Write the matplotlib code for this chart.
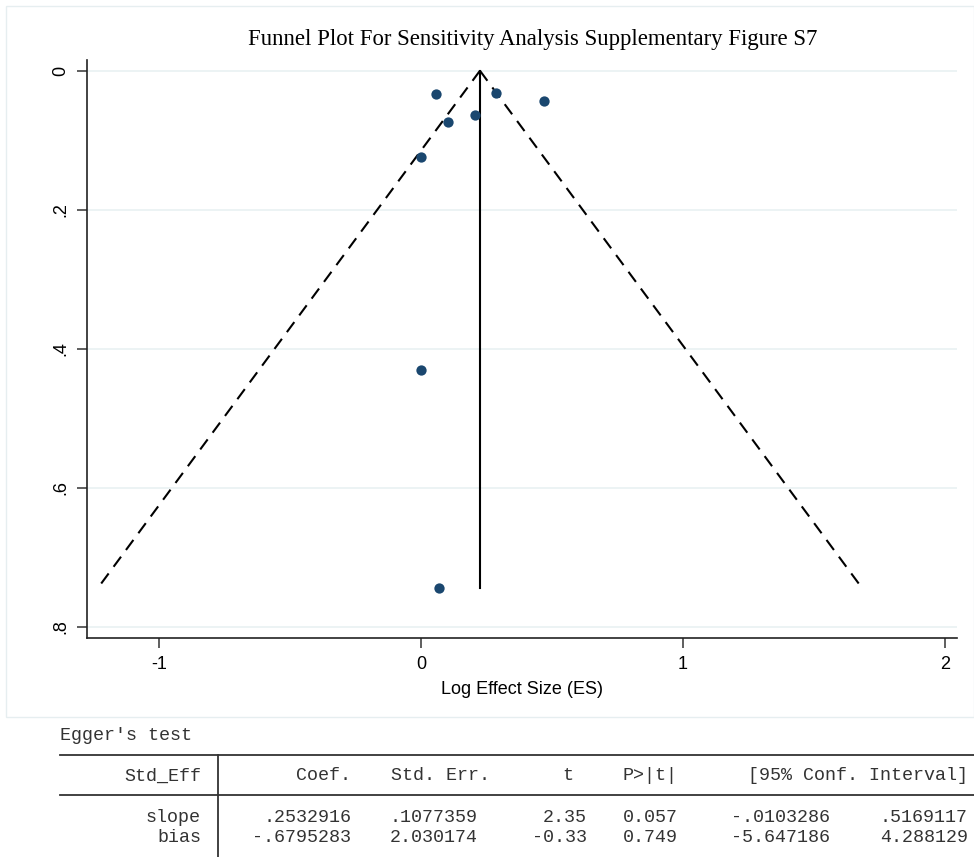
import matplotlib
matplotlib.use("Agg")
import matplotlib.pyplot as plt
from matplotlib.patches import Rectangle
import numpy as np

# ---- data ----
log_es = [0.057, 0.286, 0.469, 0.206, 0.103, 0.0, 0.0, 0.069]
se_es = [0.0335, 0.032, 0.0437, 0.064, 0.074, 0.124, 0.43, 0.744]
pooled_es = 0.225
x_ticks = [-1, 0, 1, 2]
y_ticks = [0, 0.2, 0.4, 0.6, 0.8]
y_ticklabels = ["0", ".2", ".4", ".6", ".8"]

table_title = "Egger's test"
table_header = ["Std_Eff", "Coef.", "Std. Err.", "t", "P>|t|", "[95% Conf. Interval]"]
row_names = ["slope", "bias"]
coef = [".2532916", "-.6795283"]
std_err = [".1077359", "2.030174"]
t_vals = ["2.35", "-0.33"]
p_vals = ["0.057", "0.749"]
ci_low = ["-.0103286", "-5.647186"]
ci_high = [".5169117", "4.288129"]

W, H = 974, 857
fig = plt.figure(figsize=(W / 100, H / 100), dpi=100)
fig.patch.set_facecolor("white")

# outer graph region border
fig.add_artist(Rectangle((6 / W, 1 - 717 / H), (W - 6) / W, (717 - 6) / H,
                         transform=fig.transFigure, fill=False,
                         edgecolor="#e6eef0", lw=1.0))

ax = fig.add_axes([87 / W, 1 - 638 / H, (957 - 87) / W, (638 - 60) / H])
ax.set_xlim(-1.275, 2.046)
ax.set_ylim(0.816, -0.0154)

grid_c = "#eaf2f3"
for yv in y_ticks:
    ax.axhline(yv, color=grid_c, lw=1.3, zorder=0)

max_se = max(se_es)
se_line = np.array([0, max_se])
ax.plot(pooled_es - 1.96 * se_line, se_line, color="black", lw=1.5,
        dashes=(6, 4), zorder=2)
ax.plot(pooled_es + 1.96 * se_line, se_line, color="black", lw=1.5,
        dashes=(6, 4), zorder=2)
ax.plot([pooled_es, pooled_es], [0, max_se], color="black", lw=1.5, zorder=2)

ax.scatter(log_es, se_es, s=55, color="#1a476f", zorder=3, linewidths=0)

for s in ["top", "right"]:
    ax.spines[s].set_visible(False)
for s in ["left", "bottom"]:
    ax.spines[s].set_color("#222222")
    ax.spines[s].set_linewidth(1.2)

ax.set_xticks(x_ticks)
ax.set_xticklabels([str(v) for v in x_ticks], family="Liberation Sans", fontsize=13)
ax.set_yticks(y_ticks)
ax.set_yticklabels(y_ticklabels, family="Liberation Sans", fontsize=13,
                   rotation=90, va="center")
ax.tick_params(axis="both", length=7, width=1.1, color="#333333", pad=6)
ax.set_xlabel("Log Effect Size (ES)", family="Liberation Sans", fontsize=13,
              labelpad=6)

fig.text(533 / W, 1 - 40 / H,
         "Funnel Plot For Sensitivity Analysis Supplementary Figure S7",
         family="Liberation Serif", fontsize=16.4, ha="center", va="center")

# ---- Egger's test table ----
mono = "Liberation Mono"
fs = 13.2
tc = "#333333"
fig.text(60 / W, 1 - 735 / H, table_title, family=mono, fontsize=fs,
         ha="left", va="center", color=tc)
fig.add_artist(plt.Line2D([60 / W, 1.0], [1 - 755 / H, 1 - 755 / H],
                          transform=fig.transFigure, color="#333333", lw=1.3))
fig.add_artist(plt.Line2D([60 / W, 1.0], [1 - 795 / H, 1 - 795 / H],
                          transform=fig.transFigure, color="#333333", lw=1.3))
fig.add_artist(plt.Line2D([218 / W, 218 / W], [1 - 755 / H, 0],
                          transform=fig.transFigure, color="#333333", lw=1.3))

hdr_y = 1 - 776 / H
hdr_x = [201, 351, 490, 573, 678, 968]
for txt, xr in zip(table_header, hdr_x):
    fig.text(xr / W, hdr_y, txt, family=mono, fontsize=fs, ha="right",
             va="center", color=tc)

row_y = [818, 838]
col_x = [201, 351, 478, 587, 678, 830, 968]
for i in range(len(row_names)):
    vals = [row_names[i], coef[i], std_err[i], t_vals[i], p_vals[i], ci_low[i], ci_high[i]]
    for txt, xr in zip(vals, col_x):
        fig.text(xr / W, 1 - row_y[i] / H, txt, family=mono, fontsize=fs,
                 ha="right", va="center", color=tc)

fig.savefig("out.png", dpi=100, facecolor="white")
